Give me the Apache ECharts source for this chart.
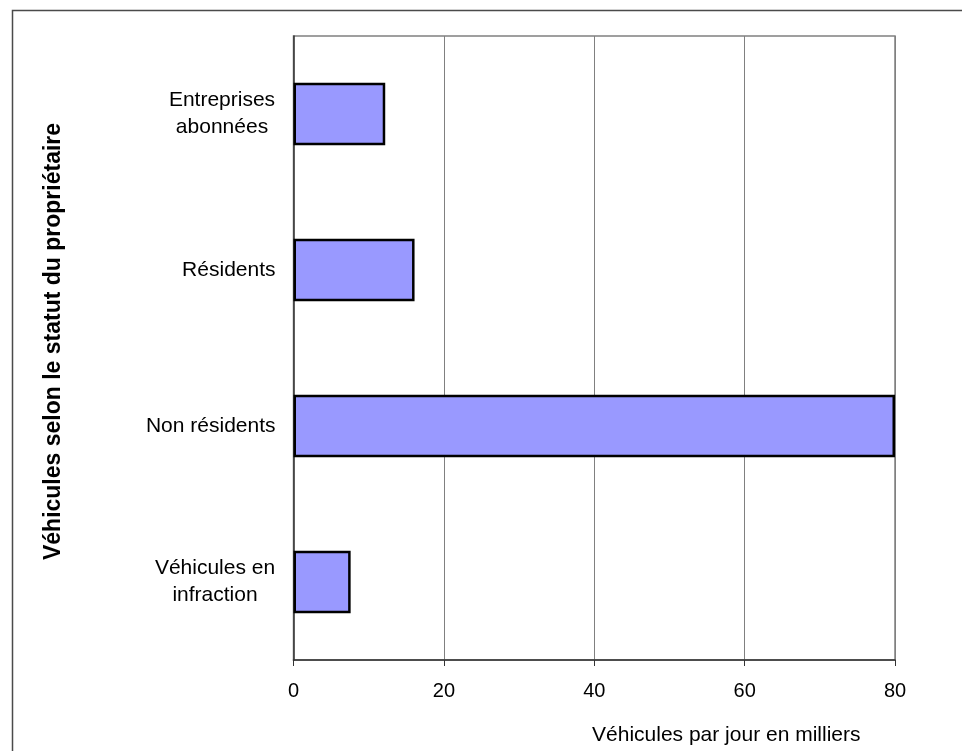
<!DOCTYPE html>
<html>
<head>
<meta charset="utf-8">
<title>Véhicules par jour selon le statut du propriétaire</title>
<script src="https://cdn.jsdelivr.net/npm/echarts@6/dist/echarts.min.js"></script>
<style>
  html, body { margin: 0; padding: 0; background: #fff; }
  #chart { width: 962px; height: 751px; }
</style>
</head>
<body>
<div id="chart"></div>
<script>
// Owner status categories, top to bottom
const categories = [
  'Entreprises\nabonnées',
  'Résidents',
  'Non résidents',
  'Véhicules en\ninfraction'
];
// Vehicles per day, in thousands
const vehicles = [12.2, 16.1, 80, 7.6];
// Value axis ticks
const xTicks = [0, 20, 40, 60, 80];

const FONT = 'Liberation Sans, Arial, Helvetica, sans-serif';
const LABEL_SIZE = 21;
const LINE_H = 27;

// Multi-line category labels: lines are centred among themselves,
// the whole block stays right-aligned against the axis.
const measureCtx = document.createElement('canvas').getContext('2d');
measureCtx.font = LABEL_SIZE + 'px ' + FONT;
const rich = {};
categories.forEach((c, i) => {
  const lines = c.split('\n');
  const w = Math.max(...lines.map(l => measureCtx.measureText(l).width));
  rich['c' + i] = { width: Math.ceil(w), align: 'center', fontSize: LABEL_SIZE, fontFamily: FONT, color: '#000', lineHeight: LINE_H };
});

const chart = echarts.init(document.getElementById('chart'), null, { renderer: 'canvas' });

chart.setOption({
  animation: false,
  backgroundColor: '#fff',
  graphic: [{
    type: 'rect',
    silent: true,
    shape: { x: 12.5, y: 10.5, width: 1000, height: 800 },
    style: { fill: 'none', stroke: '#4a4a4a', lineWidth: 1.5 }
  }],
  grid: {
    left: 293.5,
    right: 67,
    top: 36,
    bottom: 91,
    show: true,
    borderColor: '#808080',
    borderWidth: 1.5,
    containLabel: false
  },
  xAxis: {
    type: 'value',
    min: xTicks[0],
    max: xTicks[xTicks.length - 1],
    interval: xTicks[1] - xTicks[0],
    name: 'Véhicules par jour en milliers',
    nameLocation: 'middle',
    nameGap: 65,
    nameTextStyle: {
      fontFamily: FONT, fontSize: 21, color: '#000',
      padding: [0, 0, 0, 264]
    },
    axisLine: { show: true, lineStyle: { color: '#333', width: 1.5 } },
    axisTick: { show: true, length: 6, lineStyle: { color: '#333', width: 1 } },
    axisLabel: { fontFamily: FONT, fontSize: 20, color: '#000', margin: 21 },
    splitLine: { show: true, lineStyle: { color: '#808080', width: 1 } }
  },
  yAxis: {
    type: 'category',
    data: categories,
    inverse: true,
    name: 'Véhicules selon le statut du propriétaire',
    nameLocation: 'middle',
    nameRotate: 90,
    nameGap: 228,
    nameTextStyle: {
      fontFamily: FONT, fontSize: 23, fontWeight: 'bold', color: '#000',
      padding: [0, 0, 0, 13]
    },
    axisLine: { show: true, lineStyle: { color: '#333', width: 1.5 } },
    axisTick: { show: false },
    splitLine: { show: false },
    axisLabel: {
      margin: 18,
      fontFamily: FONT, fontSize: LABEL_SIZE, color: '#000', lineHeight: LINE_H,
      formatter: (value, idx) => {
        const lines = value.split('\n');
        if (lines.length === 1) return value;
        return lines.map(l => '{c' + idx + '|' + l + '}').join('\n');
      },
      rich: rich
    }
  },
  series: [{
    type: 'bar',
    data: vehicles,
    barWidth: '40%',
    itemStyle: { color: '#9999ff', borderColor: '#000', borderWidth: 2.5 },
    emphasis: { disabled: true }
  }]
});
</script>
</body>
</html>
